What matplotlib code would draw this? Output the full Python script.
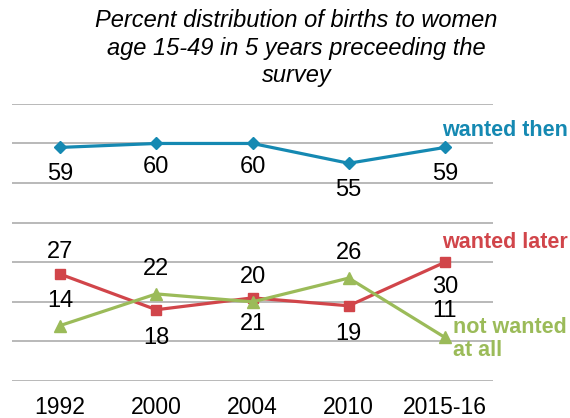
import numpy as np
import matplotlib.pyplot as plt

plt.rcParams['font.family'] = ['Liberation Sans', 'DejaVu Sans']

# survey rounds and percent of births
years = ['1992', '2000', '2004', '2010', '2015-16']
wanted_then = [59, 60, 60, 55, 59]
wanted_later = [27, 18, 21, 19, 30]
not_wanted = [14, 22, 20, 26, 11]

blue = '#1589b2'
red = '#d1454a'
green = '#9bbb59'

fig = plt.figure(figsize=(5.7, 4.18), dpi=100)
ax = fig.add_axes([0.021, 0.0885, 0.844, 0.663])

x = np.arange(len(years))

ax.plot(x, wanted_then, color=blue, lw=2.3, marker='D', ms=6.5, zorder=3)
ax.plot(x, wanted_later, color=red, lw=2.3, marker='s', ms=7, zorder=3)
ax.plot(x, not_wanted, color=green, lw=2.3, marker='^', ms=8, zorder=3)

# value labels: offset in points (above +, below -)
blue_off = [-19, -17, -17, -19, -19]
red_off = [16, -20, -19, -20, -18]
green_off = [18, 18, 18, 18, 19]
for vals, offs in [(wanted_then, blue_off), (wanted_later, red_off), (not_wanted, green_off)]:
    for xi, v, o in zip(x, vals, offs):
        ax.annotate(str(v), (xi, v), xytext=(0, o), textcoords='offset points',
                    ha='center', va='center', fontsize=17, color='black')

# series names
ax.annotate('wanted then', (x[-1], wanted_then[-1]), xytext=(-2, 12),
            textcoords='offset points', ha='left', va='center',
            fontsize=15.5, fontweight='bold', color=blue, annotation_clip=False)
ax.annotate('wanted later', (x[-1], wanted_later[-1]), xytext=(-2, 14),
            textcoords='offset points', ha='left', va='center',
            fontsize=15.5, fontweight='bold', color=red, annotation_clip=False)
ax.annotate('not wanted\nat all', (x[-1], not_wanted[-1]), xytext=(6, -1),
            textcoords='offset points', ha='left', va='center', linespacing=1.1,
            fontsize=15.5, fontweight='bold', color=green, annotation_clip=False)

ax.set_xlim(-0.5, len(years) - 0.5)
ax.set_ylim(0, 70)
ax.set_yticks(np.arange(0, 71, 10))
ax.set_yticklabels([])
ax.set_xticks(x)
ax.set_xticklabels(years, fontsize=16.5)
ax.tick_params(axis='both', length=0)
ax.tick_params(axis='x', pad=11)
ax.yaxis.grid(True, color='#a6a6a6', lw=1.1)
ax.set_axisbelow(True)
for s in ax.spines.values():
    s.set_visible(False)

fig.text(0.52, 0.978, 'Percent distribution of births to women\nage 15-49 in 5 years preceeding the\nsurvey',
         ha='center', va='top', fontsize=17, style='italic', linespacing=1.24)

fig.savefig('out.png', dpi=100)
